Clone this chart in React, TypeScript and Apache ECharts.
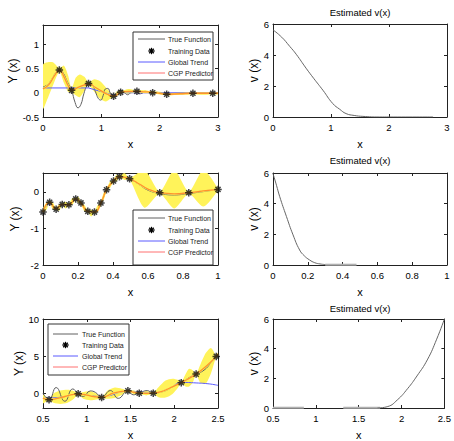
import React, { useEffect, useRef } from 'react';
import * as echarts from 'echarts';

type P = [number, number];

// ---------- Panel 1 (top-left) ----------
const p1True: P[] = [[0,0.12],[0.08,0.17],[0.16,0.3],[0.22,0.42],[0.28,0.48],[0.34,0.42],[0.42,0.22],[0.49,0.05],[0.55,-0.2],[0.6,-0.31],[0.65,-0.24],[0.7,-0.02],[0.75,0.14],[0.8,0.21],[0.85,0.16],[0.9,0.02],[0.95,-0.12],[0.99,-0.15],[1.03,-0.06],[1.07,0.08],[1.11,0.09],[1.16,-0.02],[1.21,-0.08],[1.26,-0.03],[1.3,0.04],[1.35,0.05],[1.4,0.0],[1.45,-0.04],[1.5,0.0],[1.55,0.05],[1.6,0.03],[1.65,-0.02],[1.7,-0.01],[1.75,0.03],[1.8,0.01],[1.86,-0.01],[1.95,0.01],[2.1,-0.02],[2.4,-0.01],[2.8,-0.01],[3,-0.01]];
const p1Pred: P[] = [[0,0.08],[0.1,0.17],[0.2,0.36],[0.28,0.47],[0.36,0.33],[0.43,0.15],[0.49,0.05],[0.6,0.11],[0.7,0.16],[0.78,0.19],[0.9,0.11],[1.0,0.04],[1.1,-0.03],[1.21,-0.07],[1.33,0.01],[1.47,0.03],[1.61,0.03],[1.75,0.02],[1.88,0.01],[2.0,-0.01],[2.12,-0.03],[2.35,-0.02],[2.57,-0.01],[2.91,-0.01],[3,-0.01]];
const p1Trend: P[] = [[0,0.1],[0.78,0.1],[1.21,-0.05],[1.33,0],[3,0]];
const p1Train: P[] = [[0.28,0.47],[0.49,0.05],[0.78,0.19],[1.21,-0.07],[1.33,0.01],[1.61,0.03],[1.88,0.0],[2.12,-0.03],[2.57,-0.01],[2.91,-0.01]];
const p1BandX = [0,0.08,0.17,0.28,0.36,0.43,0.49,0.56,0.63,0.71,0.78,0.88,0.98,1.08,1.16,1.21,1.27,1.33,1.47,1.61,1.75,1.88,2.0,2.12,2.35,2.57,2.75,2.91,3];
const p1BandLo = [-0.33,-0.12,0.15,0.43,0.2,0.02,0.01,-0.05,-0.09,0.04,0.16,0.02,-0.13,-0.18,-0.12,-0.09,-0.04,-0.01,-0.02,0.01,-0.01,-0.01,-0.03,-0.05,-0.04,-0.03,-0.04,-0.03,-0.03];
const p1BandHi = [0.58,0.63,0.63,0.51,0.56,0.36,0.09,0.31,0.38,0.33,0.22,0.28,0.24,0.11,0.0,-0.05,0.03,0.03,0.08,0.05,0.05,0.02,0.02,-0.01,0.01,0.01,0.01,0.01,0.01];

// ---------- Panel 2 (top-right) ----------
const p2V: P[] = [[0,5.62],[0.15,5.15],[0.29,4.55],[0.4,4.05],[0.57,3.15],[0.7,2.5],[0.86,1.73],[1.03,0.87],[1.15,0.5],[1.26,0.22],[1.4,0.1],[1.55,0.04],[1.84,0],[2.0,0],[2.76,0]];

// ---------- Panel 3 (middle-left) ----------
const p3Train: P[] = [[0,-0.55],[0.038,-0.28],[0.075,-0.47],[0.11,-0.34],[0.148,-0.35],[0.187,-0.19],[0.217,-0.3],[0.256,-0.53],[0.294,-0.55],[0.331,-0.3],[0.363,0.06],[0.403,0.3],[0.437,0.42],[0.495,0.36],[0.667,-0.02],[0.833,-0.02],[1.0,0.07]];
const p3Pred: P[] = [[0,-0.55],[0.038,-0.28],[0.075,-0.47],[0.11,-0.34],[0.148,-0.35],[0.187,-0.19],[0.217,-0.3],[0.256,-0.53],[0.294,-0.55],[0.331,-0.3],[0.363,0.06],[0.403,0.3],[0.437,0.42],[0.495,0.36],[0.55,0.22],[0.6,0.08],[0.667,-0.02],[0.75,-0.05],[0.833,-0.02],[0.916,0.03],[1.0,0.07]];
const p3True: P[] = [[0,-0.55],[0.038,-0.28],[0.075,-0.47],[0.11,-0.34],[0.148,-0.35],[0.187,-0.19],[0.217,-0.3],[0.256,-0.53],[0.294,-0.55],[0.331,-0.3],[0.363,0.06],[0.403,0.3],[0.437,0.42],[0.495,0.36],[0.55,0.2],[0.6,0.05],[0.667,-0.04],[0.75,-0.08],[0.833,-0.04],[0.916,0.01],[1.0,0.07]];
const p3Trend: P[] = [[0,-0.55],[0.038,-0.33],[0.075,-0.45],[0.11,-0.37],[0.148,-0.36],[0.187,-0.22],[0.217,-0.3],[0.256,-0.52],[0.294,-0.54],[0.331,-0.3],[0.363,0.05],[0.403,0.29],[0.437,0.41],[0.495,0.35],[0.55,0.21],[0.6,0.07],[0.667,-0.02],[0.75,-0.05],[0.833,-0.02],[0.916,0.03],[1.0,0.07]];
const p3BandX = [0,0.019,0.038,0.056,0.075,0.093,0.11,0.129,0.148,0.167,0.187,0.202,0.217,0.236,0.256,0.275,0.294,0.312,0.331,0.347,0.363,0.383,0.403,0.42,0.437,0.466,0.495,0.58,0.667,0.75,0.833,0.916,1.0];
const p3BandLo = [-0.57,-0.49,-0.3,-0.47,-0.49,-0.51,-0.36,-0.45,-0.37,-0.35,-0.21,-0.31,-0.32,-0.53,-0.55,-0.67,-0.57,-0.54,-0.32,-0.21,0.04,0.11,0.28,0.29,0.4,0.33,0.34,-0.43,-0.05,-0.45,-0.05,-0.4,0.04];
const p3BandHi = [-0.53,-0.31,-0.26,-0.29,-0.45,-0.33,-0.32,-0.27,-0.33,-0.17,-0.17,-0.13,-0.28,-0.35,-0.51,-0.49,-0.53,-0.36,-0.28,-0.03,0.08,0.29,0.32,0.47,0.44,0.51,0.38,0.6,0.01,0.6,0.01,0.6,0.1];

// ---------- Panel 4 (middle-right) ----------
const p4V: P[] = [[0,5.96],[0.02,5.2],[0.038,4.48],[0.077,3.17],[0.115,1.97],[0.153,0.98],[0.18,0.6],[0.21,0.33],[0.24,0.15],[0.27,0.07],[0.31,0.02]];
const p4Tail: P[] = [[0.3,0.02],[0.48,0.02]];

// ---------- Panel 5 (bottom-left) ----------
const p5True: P[] = [[0.5,0],[0.569,-0.88],[0.65,0.76],[0.75,-1.1],[0.84,0.57],[0.902,-0.05],[0.96,-0.44],[1.04,0.3],[1.1,0.1],[1.17,-0.55],[1.27,0.35],[1.36,-0.7],[1.47,0.31],[1.53,-0.22],[1.6,0],[1.69,0.35],[1.76,0],[1.85,0.15],[1.93,0.5],[2.0,1.0],[2.08,1.42],[2.17,2.1],[2.25,2.57],[2.34,3.1],[2.42,4.1],[2.48,4.96],[2.5,5.2]];
const p5Pred: P[] = [[0.5,-0.66],[0.569,-0.88],[0.65,-0.75],[0.75,-0.45],[0.83,-0.2],[0.902,-0.09],[1.0,-0.25],[1.08,-0.45],[1.17,-0.58],[1.3,0.0],[1.4,0.25],[1.47,0.31],[1.54,0.1],[1.6,0],[1.68,-0.02],[1.76,0],[1.85,0.2],[1.95,0.7],[2.08,1.42],[2.17,2.0],[2.25,2.57],[2.38,3.8],[2.48,4.96],[2.5,5.3]];
const p5Trend: P[] = [[0.5,-0.68],[0.7,-0.55],[0.9,-0.15],[1.17,-0.45],[1.47,0.25],[1.76,0.05],[1.95,0.7],[2.08,1.45],[2.25,1.38],[2.4,1.25],[2.5,1.05]];
const p5Train: P[] = [[0.569,-0.88],[0.902,-0.09],[1.17,-0.58],[1.47,0.31],[1.6,0],[1.76,0],[2.08,1.42],[2.25,2.57],[2.48,4.96]];
const p5BandX = [0.5,0.569,0.62,0.7,0.78,0.85,0.902,0.96,1.04,1.11,1.17,1.24,1.32,1.4,1.47,1.54,1.6,1.68,1.76,1.82,1.9,1.98,2.04,2.08,2.13,2.17,2.21,2.25,2.3,2.36,2.42,2.48,2.5];
const p5BandLo = [-1.35,-0.95,-1.3,-1.45,-1.3,-0.8,-0.15,-0.75,-0.95,-0.85,-0.65,-0.75,-0.65,-0.25,0.25,-0.15,-0.05,-0.3,-0.05,-0.55,-0.6,-0.1,0.7,1.35,0.9,0.9,1.4,2.5,1.4,1.3,2.7,4.9,5.0];
const p5BandHi = [-0.2,-0.8,-0.05,0.35,0.45,0.3,-0.03,0.15,0.25,-0.05,-0.5,0.35,0.75,0.6,0.37,0.35,0.05,0.3,0.05,0.8,1.7,1.95,1.8,1.5,2.6,3.3,3.1,2.65,3.9,5.4,6.1,5.05,5.4];

// ---------- Panel 6 (bottom-right) ----------
const p6Flat1: P[] = [[0.5,0.02],[0.86,0.02]];
const p6Flat2: P[] = [[1.32,0.02],[1.75,0.02]];
const p6V: P[] = [[1.72,0],[1.84,0.1],[1.95,0.54],[2.07,1.3],[2.18,2.16],[2.3,3.24],[2.41,4.64],[2.5,6.0]];

const legendLabels = ['True Function', 'Training Data', 'Global Trend', 'CGP Predictor'];
const titleText = 'Estimated v(x)';

const FONT = '"Liberation Sans", Arial, sans-serif';
const YEL = '#fff35a';
const GRAY = '#606060';
const BLUE = '#5a5aff';
const PRED = 'rgba(255,50,0,0.5)';
const LEG_RED = '#ff7070';
const AX = '#222';
const STAR = 'path://M5 0L5 10M0 5L10 5M1.6 1.6L8.4 8.4M1.6 8.4L8.4 1.6';

const GRIDS = [
  { left: 43, top: 25, width: 175, height: 92 },
  { left: 273, top: 24, width: 174, height: 93 },
  { left: 43, top: 173, width: 175, height: 92 },
  { left: 273, top: 173, width: 174, height: 92 },
  { left: 43, top: 319, width: 175, height: 92 },
  { left: 273, top: 319, width: 174, height: 93 },
];

function axisPair(dim: 'x' | 'y', g: number, cfg: any) {
  const common: any = {
    type: 'value', gridIndex: g, min: cfg.min, max: cfg.max,
    splitLine: { show: false },
    axisLine: { show: true, onZero: false, lineStyle: { color: AX, width: 1 } },
    axisTick: { show: true, inside: true, length: 3, lineStyle: { color: AX } },
  };
  if (cfg.interval != null) common.interval = cfg.interval;
  if (cfg.custom) common.axisTick.customValues = cfg.custom;
  const main: any = {
    ...common,
    position: dim === 'x' ? 'bottom' : 'left',
    axisLabel: {
      fontSize: 9.5, color: '#000', fontFamily: FONT, margin: dim === 'x' ? 5 : 4,
      showMaxLabel: cfg.showMax !== false,
      ...(cfg.custom ? { customValues: cfg.custom } : {}),
    },
    name: cfg.name, nameLocation: 'middle', nameGap: cfg.nameGap,
    nameRotate: dim === 'y' ? 90 : 0,
    nameTextStyle: { fontSize: dim === 'y' ? 12 : 11, color: '#000', fontFamily: FONT },
  };
  const second: any = { ...common, position: dim === 'x' ? 'top' : 'right', axisLabel: { show: false } };
  return [main, second];
}

function line(g: number, data: P[], color: string, width = 1, smooth: any = true, z = 2) {
  return { type: 'line', xAxisIndex: 2 * g, yAxisIndex: 2 * g, data, symbol: 'none', smooth, z, silent: true,
    lineStyle: { color, width } };
}
function pred(g: number, data: P[]) {
  return [line(g, data, YEL, 2.2, true, 3), line(g, data, PRED, 1.3, true, 3)];
}
function stars(g: number, data: P[]) {
  return { type: 'scatter', xAxisIndex: 2 * g, yAxisIndex: 2 * g, data, symbol: STAR, symbolSize: 7.5, z: 5, silent: true,
    itemStyle: { color: '#000', borderColor: '#111', borderWidth: 1.5 } };
}
function band(g: number, xs: number[], lo: number[], hi: number[]) {
  const rows = xs.map((x, i) => [x, lo[i], hi[i]]);
  return {
    type: 'custom', xAxisIndex: 2 * g, yAxisIndex: 2 * g, z: 1, silent: true,
    data: [rows[0]],
    encode: { x: 0, y: [1, 2] },
    renderItem: (params: any, api: any) => {
      const up = rows.map(r => api.coord([r[0], r[2]]));
      const dn = rows.map(r => api.coord([r[0], r[1]])).reverse();
      const cs = params.coordSys;
      return {
        type: 'polygon',
        shape: { points: up.concat(dn), smooth: 0.25 },
        style: { fill: YEL, stroke: 'none' },
        clipPath: { type: 'rect', shape: { x: cs.x, y: cs.y, width: cs.width, height: cs.height } },
      };
    },
  };
}

function legend(x: number, y: number, w: number, h: number, rows: number[], lx1: number, lx2: number, tx: number) {
  const els: any[] = [];
  els.push({ type: 'rect', shape: { x, y, width: w, height: h }, style: { fill: '#fff', stroke: '#333', lineWidth: 1 }, z: 10 });
  const cols = [GRAY, null, BLUE, LEG_RED];
  rows.forEach((ry, i) => {
    if (cols[i]) {
      els.push({ type: 'line', shape: { x1: lx1, y1: ry, x2: lx2, y2: ry }, style: { stroke: cols[i], lineWidth: 1 }, z: 11 });
    } else {
      const cx = (lx1 + lx2) / 2, r = 3.2, d = 2.3;
      [[0, -r, 0, r], [-r, 0, r, 0], [-d, -d, d, d], [-d, d, d, -d]].forEach(s => {
        els.push({ type: 'line', shape: { x1: cx + s[0], y1: ry + s[1], x2: cx + s[2], y2: ry + s[3] }, style: { stroke: '#000', lineWidth: 1.3 }, z: 11 });
      });
    }
    els.push({ type: 'text', x: tx, y: ry, z: 11,
      style: { text: legendLabels[i], fill: '#222', font: `7px ${FONT}`, align: 'left', verticalAlign: 'middle', textAlign: 'left', textVerticalAlign: 'middle' } });
  });
  return els;
}

function title(cx: number, cy: number) {
  return { type: 'text', x: cx, y: cy, z: 11,
    style: { text: titleText, fill: '#000', font: `9.5px ${FONT}`, align: 'center', verticalAlign: 'middle', textAlign: 'center', textVerticalAlign: 'middle' } };
}

export default function App() {
  const ref = useRef<HTMLDivElement>(null);
  useEffect(() => {
    if (!ref.current) return;
    const chart = echarts.init(ref.current, null, { renderer: 'svg' });
    const xAxis = [
      ...axisPair('x', 0, { min: 0, max: 3, interval: 1, name: 'x', nameGap: 21 }),
      ...axisPair('x', 1, { min: 0, max: 3, interval: 1, name: 'x', nameGap: 21 }),
      ...axisPair('x', 2, { min: 0, max: 1, interval: 0.2, name: 'x', nameGap: 21 }),
      ...axisPair('x', 3, { min: 0, max: 1, interval: 0.2, name: 'x', nameGap: 21 }),
      ...axisPair('x', 4, { min: 0.5, max: 2.5, interval: 0.5, name: 'x', nameGap: 21 }),
      ...axisPair('x', 5, { min: 0.5, max: 2.5, interval: 0.5, name: 'x', nameGap: 21 }),
    ];
    const yAxis = [
      ...axisPair('y', 0, { min: -0.5, max: 1.4, interval: 0.5, name: 'Y (x)', nameGap: 22, showMax: false }),
      ...axisPair('y', 1, { min: 0, max: 6, interval: 2, name: 'v (x)', nameGap: 12 }),
      ...axisPair('y', 2, { min: -2, max: 0.52, interval: 1, name: 'Y (x)', nameGap: 22, showMax: false }),
      ...axisPair('y', 3, { min: 0, max: 6, interval: 2, name: 'v (x)', nameGap: 12 }),
      ...axisPair('y', 4, { min: -2, max: 10, custom: [0, 5, 10], name: 'Y (x)', nameGap: 18 }),
      ...axisPair('y', 5, { min: 0, max: 6, interval: 2, name: 'v (x)', nameGap: 12 }),
    ];
    const series: any[] = [
      band(0, p1BandX, p1BandLo, p1BandHi),
      line(0, p1True, GRAY),
      line(0, p1Trend, BLUE, 1, false),
      ...pred(0, p1Pred),
      stars(0, p1Train),
      line(1, p2V, '#666'),
      band(2, p3BandX, p3BandLo, p3BandHi),
      line(2, p3True, GRAY),
      line(2, p3Trend, BLUE, 1, true),
      ...pred(2, p3Pred),
      stars(2, p3Train),
      line(3, p4V, '#666'),
      line(3, p4Tail, '#b0b0b0', 2, false),
      band(4, p5BandX, p5BandLo, p5BandHi),
      line(4, p5True, GRAY),
      line(4, p5Trend, BLUE, 1, true),
      ...pred(4, p5Pred),
      stars(4, p5Train),
      line(5, p6Flat1, '#b0b0b0', 2, false),
      line(5, p6Flat2, '#b0b0b0', 2, false),
      line(5, p6V, '#666'),
    ];
    chart.setOption({
      animation: false,
      backgroundColor: '#fff',
      grid: GRIDS.map(g => ({ ...g, containLabel: false })),
      xAxis, yAxis, series,
      graphic: [
        ...legend(133, 32, 80, 48, [39, 51, 62, 73], 138, 165, 168),
        ...legend(133, 210, 80, 55, [218, 230, 241, 252], 138, 165, 168),
        ...legend(48, 324, 81, 51, [334, 345, 356, 367], 53, 78, 82),
        title(360, 12),
        title(360, 160),
        title(360, 308),
      ],
    });
    return () => chart.dispose();
  }, []);
  return <div ref={ref} style={{ position: 'absolute', left: 0, top: 0, width: 454, height: 441 }} />;
}
